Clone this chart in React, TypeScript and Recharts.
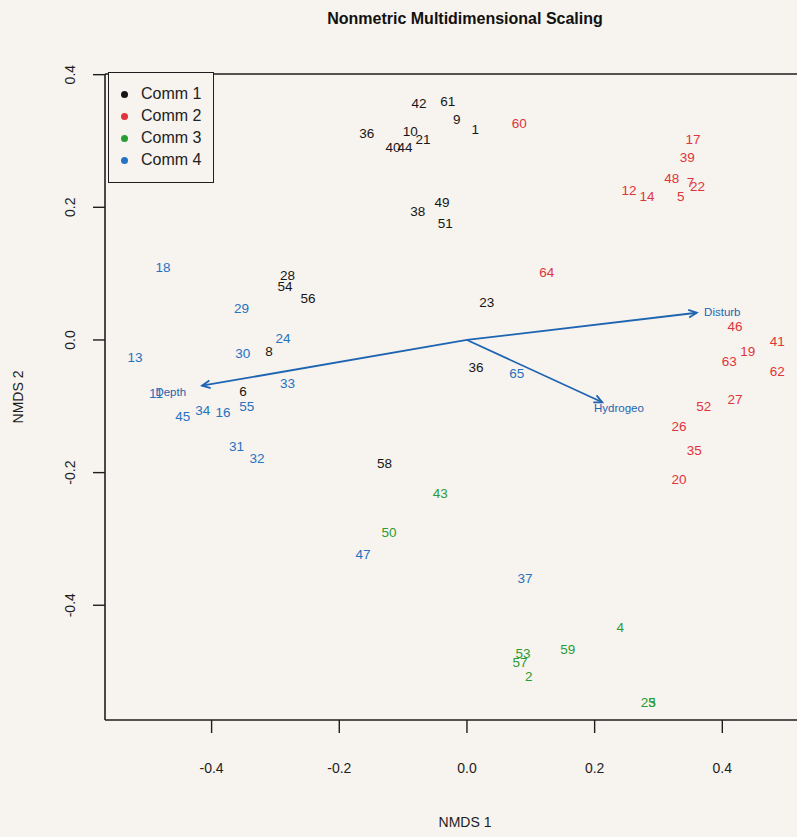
import React from "react";
import {
  ScatterChart,
  Scatter,
  XAxis,
  YAxis,
  ReferenceLine,
  Legend,
  Label,
} from "recharts";

// NMDS site scores, one list per community (id = site number)
interface Site {
  id: string;
  x: number;
  y: number;
}

const comm1: Site[] = [
  { id: "42", x: -0.075, y: 0.356 },
  { id: "61", x: -0.03, y: 0.359 },
  { id: "9", x: -0.016, y: 0.333 },
  { id: "1", x: 0.013, y: 0.318 },
  { id: "36", x: -0.157, y: 0.312 },
  { id: "10", x: -0.089, y: 0.315 },
  { id: "21", x: -0.069, y: 0.302 },
  { id: "40", x: -0.116, y: 0.29 },
  { id: "44", x: -0.097, y: 0.29 },
  { id: "49", x: -0.039, y: 0.207 },
  { id: "38", x: -0.077, y: 0.193 },
  { id: "51", x: -0.034, y: 0.176 },
  { id: "28", x: -0.281, y: 0.097 },
  { id: "54", x: -0.285, y: 0.08 },
  { id: "56", x: -0.249, y: 0.063 },
  { id: "23", x: 0.031, y: 0.056 },
  { id: "8", x: -0.31, y: -0.018 },
  { id: "6", x: -0.351, y: -0.078 },
  { id: "36", x: 0.014, y: -0.041 },
  { id: "58", x: -0.129, y: -0.186 },
];

const comm2: Site[] = [
  { id: "60", x: 0.082, y: 0.327 },
  { id: "17", x: 0.354, y: 0.302 },
  { id: "39", x: 0.345, y: 0.275 },
  { id: "48", x: 0.321, y: 0.243 },
  { id: "7", x: 0.35, y: 0.238 },
  { id: "22", x: 0.361, y: 0.231 },
  { id: "5", x: 0.335, y: 0.216 },
  { id: "12", x: 0.254, y: 0.225 },
  { id: "14", x: 0.282, y: 0.216 },
  { id: "64", x: 0.125, y: 0.101 },
  { id: "46", x: 0.42, y: 0.021 },
  { id: "41", x: 0.486, y: -0.003 },
  { id: "19", x: 0.44, y: -0.018 },
  { id: "63", x: 0.411, y: -0.033 },
  { id: "62", x: 0.486, y: -0.047 },
  { id: "27", x: 0.42, y: -0.09 },
  { id: "52", x: 0.371, y: -0.1 },
  { id: "26", x: 0.332, y: -0.13 },
  { id: "35", x: 0.356, y: -0.166 },
  { id: "20", x: 0.332, y: -0.21 },
];

const comm3: Site[] = [
  { id: "43", x: -0.042, y: -0.232 },
  { id: "50", x: -0.122, y: -0.29 },
  { id: "4", x: 0.24, y: -0.434 },
  { id: "59", x: 0.158, y: -0.466 },
  { id: "53", x: 0.088, y: -0.472 },
  { id: "57", x: 0.083, y: -0.487 },
  { id: "2", x: 0.097, y: -0.508 },
  { id: "25", x: 0.284, y: -0.546 },
  { id: "3", x: 0.29, y: -0.546 },
];

const comm4: Site[] = [
  { id: "18", x: -0.476, y: 0.11 },
  { id: "29", x: -0.353, y: 0.048 },
  { id: "24", x: -0.288, y: 0.002 },
  { id: "30", x: -0.351, y: -0.021 },
  { id: "13", x: -0.52, y: -0.027 },
  { id: "33", x: -0.281, y: -0.065 },
  { id: "11", x: -0.487, y: -0.08 },
  { id: "65", x: 0.078, y: -0.05 },
  { id: "45", x: -0.445, y: -0.116 },
  { id: "34", x: -0.414, y: -0.107 },
  { id: "16", x: -0.382, y: -0.109 },
  { id: "55", x: -0.345, y: -0.1 },
  { id: "31", x: -0.361, y: -0.161 },
  { id: "32", x: -0.329, y: -0.179 },
  { id: "47", x: -0.163, y: -0.324 },
  { id: "37", x: 0.091, y: -0.36 },
];

// fitted environmental vectors (arrow tip) and where their names sit
const vectors = [
  { id: "Disturb", x: 0.36, y: 0.041, lx: 0.4, ly: 0.042 },
  { id: "Depth", x: -0.415, y: -0.069, lx: -0.464, ly: -0.078 },
  { id: "Hydrogeo", x: 0.212, y: -0.094, lx: 0.238, ly: -0.103 },
];

const xTicks = [-0.4, -0.2, 0, 0.2, 0.4];
const yTicks = [-0.4, -0.2, 0, 0.2, 0.4];

const communities = [
  { name: "Comm 1", color: "#161616", data: comm1 },
  { name: "Comm 2", color: "#e0343c", data: comm2 },
  { name: "Comm 3", color: "#2a9c34", data: comm3 },
  { name: "Comm 4", color: "#2472c2", data: comm4 },
];

const FONT = '"Liberation Sans", Arial, Helvetica, sans-serif';
const BG = "#f7f3ee";
const AXIS = "#1e1e1e";
const ARROW = "#1d64b2";

const vectorLabels = vectors.map((v) => ({ id: v.id, x: v.lx, y: v.ly }));

function siteLabel(color: string, size = 13.5) {
  return (props: any) => {
    const { cx, cy, payload } = props;
    return (
      <text
        x={cx}
        y={cy}
        textAnchor="middle"
        dominantBaseline="central"
        fill={color}
        fontSize={size}
        fontFamily={FONT}
      >
        {payload.id}
      </text>
    );
  };
}

function Arrow(props: any) {
  const { x1, y1, x2, y2 } = props;
  const a = Math.atan2(y2 - y1, x2 - x1);
  const len = 9;
  const spread = Math.PI / 7;
  const hx1 = x2 - len * Math.cos(a - spread);
  const hy1 = y2 - len * Math.sin(a - spread);
  const hx2 = x2 - len * Math.cos(a + spread);
  const hy2 = y2 - len * Math.sin(a + spread);
  return (
    <g stroke={ARROW} strokeWidth={1.8} fill="none">
      <line x1={x1} y1={y1} x2={x2} y2={y2} />
      <path d={`M${hx1},${hy1} L${x2},${y2} L${hx2},${hy2}`} />
    </g>
  );
}

function YTick(props: any) {
  const { x, y, payload } = props;
  return (
    <g transform={`translate(${x},${y})`}>
      <text
        transform="rotate(-90)"
        textAnchor="middle"
        fill={AXIS}
        fontSize={14}
        fontFamily={FONT}
      >
        {payload.value.toFixed(1)}
      </text>
    </g>
  );
}

function LegendBox() {
  return (
    <div
      style={{
        border: `1.5px solid ${AXIS}`,
        padding: "10px 12px 11px 12px",
        background: BG,
        fontFamily: FONT,
        fontSize: 16,
        lineHeight: "22px",
        color: "#222",
      }}
    >
      {communities.map((c) => (
        <div key={c.name} style={{ display: "flex", alignItems: "center" }}>
          <span
            style={{
              display: "inline-block",
              width: 7,
              height: 7,
              borderRadius: "50%",
              background: c.color,
              marginRight: 13,
            }}
          />
          {c.name}
        </div>
      ))}
    </div>
  );
}

export default function App() {
  return (
    <div
      style={{
        position: "absolute",
        left: 0,
        top: 0,
        width: 797,
        height: 837,
        background: BG,
      }}
    >
      <ScatterChart
        width={797}
        height={837}
        margin={{ top: 0, right: 0, bottom: 0, left: 0 }}
      >
        <XAxis
          xAxisId="top"
          orientation="top"
          type="number"
          dataKey="x"
          domain={[-0.567, 0.517]}
          height={74}
          tick={false}
          tickLine={false}
          axisLine={{ stroke: AXIS, strokeWidth: 1.6 }}
        >
          <Label
            content={(p: any) => {
              const vb = p.viewBox;
              return (
                <text
                  x={vb.x + vb.width / 2 + 14}
                  y={vb.y + 24}
                  textAnchor="middle"
                  fontSize={16}
                  fontWeight="bold"
                  fontFamily={FONT}
                  fill="#111"
                >
                  Nonmetric Multidimensional Scaling
                </text>
              );
            }}
          />
        </XAxis>
        <XAxis
          type="number"
          dataKey="x"
          domain={[-0.567, 0.517]}
          ticks={xTicks}
          tickFormatter={(v: number) => v.toFixed(1)}
          height={117}
          tickSize={13}
          tickMargin={30}
          tick={{ fill: AXIS, fontSize: 14, fontFamily: FONT }}
          tickLine={{ stroke: AXIS, strokeWidth: 1.4 }}
          axisLine={{ stroke: AXIS, strokeWidth: 1.6 }}
          allowDataOverflow
        >
          <Label
            content={(p: any) => {
              const vb = p.viewBox;
              return (
                <text
                  x={vb.x + vb.width / 2 + 14}
                  y={vb.y + vb.height - 10}
                  textAnchor="middle"
                  fontSize={14}
                  fontFamily={FONT}
                  fill={AXIS}
                >
                  NMDS 1
                </text>
              );
            }}
          />
        </XAxis>
        <YAxis
          type="number"
          dataKey="y"
          domain={[-0.573, 0.401]}
          ticks={yTicks}
          width={105}
          tickSize={12}
          tickMargin={18}
          tick={<YTick />}
          tickLine={{ stroke: AXIS, strokeWidth: 1.4 }}
          axisLine={{ stroke: AXIS, strokeWidth: 1.6 }}
          allowDataOverflow
        >
          <Label
            content={(p: any) => {
              const vb = p.viewBox;
              const cy = vb.y + vb.height / 2;
              return (
                <text
                  x={vb.x + 23}
                  y={cy}
                  transform={`rotate(-90, ${vb.x + 23}, ${cy})`}
                  textAnchor="middle"
                  fontSize={14}
                  fontFamily={FONT}
                  fill={AXIS}
                >
                  NMDS 2
                </text>
              );
            }}
          />
        </YAxis>

        {vectors.map((v) => (
          <ReferenceLine
            key={v.id}
            segment={[
              { x: 0, y: 0 },
              { x: v.x, y: v.y },
            ]}
            shape={Arrow}
          />
        ))}

        {communities.map((c) => (
          <Scatter
            key={c.name}
            name={c.name}
            data={c.data}
            shape={siteLabel(c.color)}
            isAnimationActive={false}
          />
        ))}
        <Scatter
          name="vectors"
          data={vectorLabels}
          shape={siteLabel(ARROW, 11.5)}
          legendType="none"
          isAnimationActive={false}
        />

        {/* middle/center keeps the legend from reserving chart space */}
        <Legend
          verticalAlign="middle"
          align="center"
          content={() => <LegendBox />}
          wrapperStyle={{ left: 108, top: 72, width: "auto", height: "auto" }}
        />
      </ScatterChart>
    </div>
  );
}
